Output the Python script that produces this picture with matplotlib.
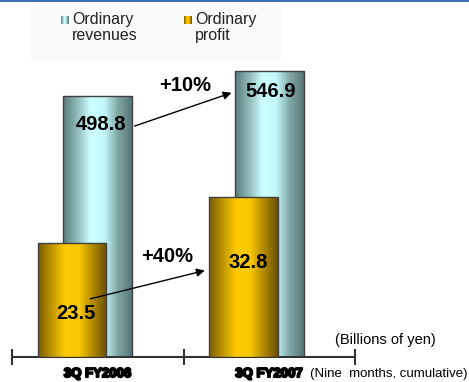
import numpy as np
import matplotlib.pyplot as plt
import matplotlib.patheffects as pe
from matplotlib.colors import LinearSegmentedColormap
from matplotlib.patches import Rectangle

plt.rcParams['font.family'] = ['Liberation Sans', 'DejaVu Sans']

# Nine-month cumulative results, billions of yen
periods = ['3Q FY2006', '3Q FY2007']
revenues = [498.8, 546.9]
profit = [23.5, 32.8]
growth = ['+10%', '+40%']

W, H = 469, 382
fig = plt.figure(figsize=(W / 100, H / 100), dpi=100)

# cylinder-like shading across each bar
rev_cmap = LinearSegmentedColormap.from_list(
    'rev', ['#5a7c7c', '#8fb8b8', '#ccffff', '#c4f8f8', '#7fa6a6', '#577676'])
prof_cmap = LinearSegmentedColormap.from_list(
    'prof', ['#7a5c00', '#c09600', '#ffcc00', '#f8c800', '#b08800', '#6a5000'])
shade = np.linspace(0, 1, 256).reshape(1, -1)

ax = fig.add_axes([12 / W, (H - 357) / H, 343 / W, 297 / H])
ax2 = ax.twinx()

x = np.array([0.5, 1.5])
bw = 0.40
off = -0.15


def shaded_bars(a, xs, vals, cmap, z):
    bars = a.bar(xs, vals, bw, facecolor='none', edgecolor='#404040',
                 linewidth=1.0, zorder=z + 1)
    for b in bars:
        x0, y0 = b.get_x(), b.get_y()
        im = a.imshow(shade, cmap=cmap, aspect='auto', zorder=z,
                      extent=(x0, x0 + b.get_width(), y0, y0 + b.get_height()))
        im.set_clip_path(b)
    return bars


shaded_bars(ax, x, revenues, rev_cmap, 2)
shaded_bars(ax2, x + off, profit, prof_cmap, 2)
ax.set_xlim(0, 2)
ax.set_ylim(0, 568)
ax2.set_xlim(0, 2)
ax2.set_ylim(0, 61)

for a in (ax, ax2):
    for s in ('top', 'left', 'right'):
        a.spines[s].set_visible(False)
    a.set_yticks([])
ax2.spines['bottom'].set_visible(False)
ax.spines['bottom'].set_color('#333333')
ax.spines['bottom'].set_linewidth(1.5)
ax.set_xticks([0, 1, 2], ['', '', ''])
ax.tick_params(axis='x', which='major', direction='inout', length=11,
               width=1.5, color='#333333')
ax.set_xticks(x, periods, minor=True)
ax.tick_params(axis='x', which='minor', length=0, pad=8, labelsize=9.5)
for t in ax.get_xticklabels(minor=True):
    t.set_fontweight('bold')
    t.set_path_effects([pe.withStroke(linewidth=1.4, foreground='black')])

num = dict(fontsize=14.5, fontweight='bold', ha='center', va='center', zorder=5)
ax.text(x[0] + 0.02, revenues[0] - 55, f'{revenues[0]}', **num)
ax.text(x[1] + 0.01, revenues[1] - 40, f'{revenues[1]}', **num)
ax2.text(x[0] + off + 0.02, profit[0] - 14.5, f'{profit[0]}', **num)
ax2.text(x[1] + off + 0.03, profit[1] - 13.3, f'{profit[1]}', **num)
ax.text(1.01, 520, growth[0], **num)
ax2.text(0.905, 20.6, growth[1], **num)

arrow = dict(arrowstyle='-|>', color='black', lw=1.0, mutation_scale=12)
ax.annotate('', xy=(x[1] - bw / 2 - 0.005, 507), xytext=(x[0] + bw / 2, 440),
            arrowprops=arrow, zorder=6)
ax2.annotate('', xy=(x[1] + off - bw / 2 - 0.01, 17.9),
             xytext=(x[0] + off + 0.09, 11.8), arrowprops=arrow, zorder=6)

# header rule and legend
fig.add_artist(Rectangle((0, 1 - 2 / H), 1, 2 / H, transform=fig.transFigure,
                         color='#3b70a8', lw=0))
fig.add_artist(Rectangle((30 / W, 1 - 60 / H), 252 / W, 56 / H,
                         transform=fig.transFigure, color='#fafafa', lw=0, zorder=0))
for lx, cmap, label in [(61, rev_cmap, 'Ordinary\nrevenues'),
                        (184, prof_cmap, 'Ordinary\nprofit')]:
    lax = fig.add_axes([lx / W, 1 - 24 / H, 8 / W, 8 / H])
    lax.imshow(shade, cmap=cmap, aspect='auto')
    lax.axis('off')
    fig.text((lx + 11) / W, 1 - 12 / H, label, fontsize=11.5, va='top',
             ha='left', color='#222222', linespacing=1.05)

fig.text(335 / W, 1 - 340 / H, '(Billions of yen)', fontsize=10.5,
         va='center', ha='left')
fig.text(310 / W, 1 - 374 / H, '(Nine  months, cumulative)', fontsize=9.5,
         va='center', ha='left')

fig.savefig('out.png', dpi=100)
